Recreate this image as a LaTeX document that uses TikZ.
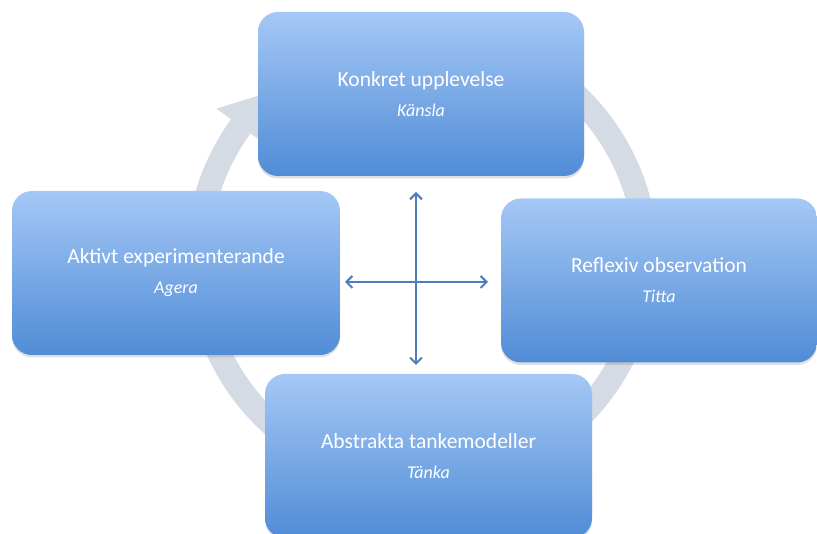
\documentclass[tikz,border=0pt]{standalone}
\usepackage{fontspec}
\setmainfont{Carlito}
\usetikzlibrary{arrows.meta,shadows}
\definecolor{ringcol}{RGB}{213,219,229}
\definecolor{boxtop}{RGB}{165,200,246}
\definecolor{boxbot}{RGB}{80,140,214}
\definecolor{crosscol}{RGB}{78,125,185}
\tikzset{
  phase/.style={rounded corners=20pt, top color=boxtop, bottom color=boxbot,
    draw=none, minimum height=164pt, text=white, align=center,
    font=\fontsize{21.5}{30}\selectfont,
    drop shadow={opacity=0.25, shadow xshift=0pt, shadow yshift=-2.5pt}},
  crossarrow/.style={draw=crosscol, line width=2.1pt,
    {Straight Barb[length=6pt,width=12pt,line width=2.1pt]}-{Straight Barb[length=6pt,width=12pt,line width=2.1pt]}}
}
\newcommand{\subl}[1]{{\fontsize{18}{30}\selectfont\itshape #1}}
\begin{document}
\begin{tikzpicture}[x=1pt,y=1pt]
\useasboundingbox (0,0) rectangle (817,534);
\clip (0,0) rectangle (817,534);
\fill[white] (0,0) rectangle (817,534);
% ring
\coordinate (ctr) at (422,276);
\draw[ringcol, line width=24pt] ([shift={(80:224)}]ctr) arc[start angle=80, end angle=-216, radius=224];
\fill[ringcol] ([shift={(144:200)}]ctr) -- ([shift={(133:226)}]ctr) -- ([shift={(144:254)}]ctr) -- cycle;
% boxes
\node[phase, minimum width=326pt] (konkret) at (421,440) {Konkret upplevelse\\\subl{Känsla}};
\node[phase, minimum width=328pt] (aktivt) at (176,261) {Aktivt experimenterande\\\subl{Agera}};
\node[phase, minimum width=316pt] (reflexiv) at (659,253.5) {Reflexiv observation\\\subl{Titta}};
\node[phase, minimum width=327pt] (abstrakta) at (428.5,78) {Abstrakta tankemodeller\\\subl{Tänka}};
% cross
\coordinate (top) at (416,342);
\coordinate (bot) at (416,169);
\coordinate (lft) at (345,252);
\coordinate (rgt) at (488,252);
\draw[crossarrow] (bot) -- (top);
\draw[crossarrow] (lft) -- (rgt);
\end{tikzpicture}
\end{document}
